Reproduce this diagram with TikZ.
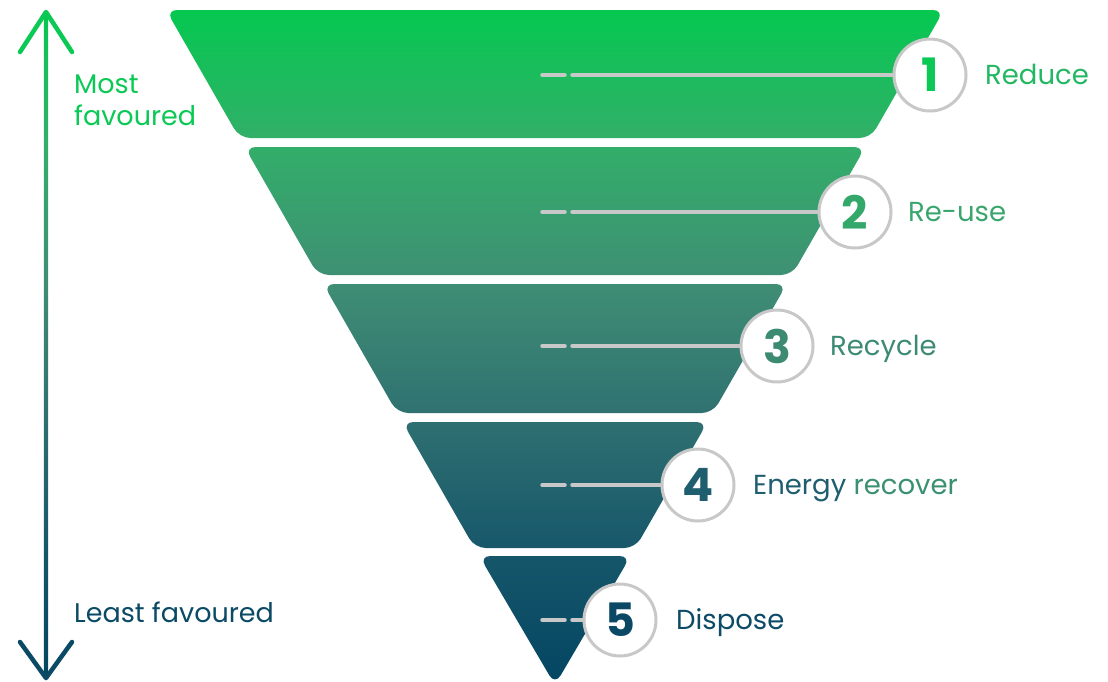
\documentclass[tikz,border=0pt]{standalone}
\usepackage{fontspec}
\setmainfont{Poppins}
\definecolor{cB0}{HTML}{05C850}
\definecolor{cB1}{HTML}{32AF69}
\definecolor{cB2}{HTML}{3F8E74}
\definecolor{cB3}{HTML}{2E6F71}
\definecolor{cB4}{HTML}{16566A}
\definecolor{cB5}{HTML}{034662}
\definecolor{ringgray}{HTML}{C8C8C8}
\definecolor{topgreen}{HTML}{0BC955}
\definecolor{botblue}{HTML}{0A4A64}
\definecolor{num1}{HTML}{0CC955}
\definecolor{num2}{HTML}{33A86A}
\definecolor{num3}{HTML}{3D8A72}
\definecolor{num4}{HTML}{1F5E6E}
\definecolor{num5}{HTML}{0B4864}
\definecolor{lab1}{HTML}{22B862}
\definecolor{lab2}{HTML}{3AA66E}
\definecolor{lab3}{HTML}{3D8A74}
\definecolor{lab4a}{HTML}{1F5E6E}
\definecolor{lab4b}{HTML}{3A9070}
\definecolor{lab5}{HTML}{0D4A66}
\pgfdeclareverticalshading{funnel}{100bp}{color(0bp)=(cB5); color(25bp)=(cB5); color(34.6bp)=(cB4); color(44.3bp)=(cB3); color(54.8bp)=(cB2); color(65.3bp)=(cB1); color(75bp)=(cB0); color(100bp)=(cB0)}
\tikzset{
  ring/.style={circle, draw=ringgray, line width=3pt, fill=white, minimum size=72pt, inner sep=0pt, font=\fontsize{46}{46}\selectfont\bfseries},
  guide/.style={draw=ringgray, line width=3.5pt, line cap=round},
  label/.style={anchor=base west, inner sep=0pt, font=\fontsize{27.5}{32}\selectfont},
  side/.style={anchor=base west, inner sep=0pt, font=\fontsize{27}{32}\selectfont},
  chev/.style={line width=4.5pt, line cap=round, line join=round}
}
\begin{document}
\begin{tikzpicture}[x=1pt,y=-1pt]
\useasboundingbox (0,0) rectangle (1108,681);
% funnel layers
\shade[shading=funnel, rounded corners=11pt]
  (166,10) -- (944,10) -- (870.6,138) -- (239.4,138) -- cycle
  (244.6,147) -- (865.4,147) -- (792,275) -- (318,275) -- cycle
  (323.2,284) -- (786.8,284) -- (712.8,413) -- (397.2,413) -- cycle
  (402.4,422) -- (707.6,422) -- (635.3,548) -- (474.7,548) -- cycle
  (479.3,556) -- (630.7,556) -- (555,685) -- cycle;
% left arrow
\coordinate (atop) at (46,12);
\coordinate (abot) at (46,678);
\shade[shading=funnel] (43.8,12) rectangle (48.2,678);
\coordinate (tl) at (20,52);
\coordinate (tr) at (72,52);
\coordinate (bl) at (20,642);
\coordinate (br) at (72,642);
\draw[chev, topgreen] (tl) -- (atop) -- (tr);
\draw[chev, botblue] (bl) -- (abot) -- (br);
\node[side, text=topgreen] (most) at (74,93) {Most};
\node[side, text=topgreen] (fav) at (74,125) {favoured};
\node[side, text=botblue] (least) at (74,622) {Least favoured};
% circles
\node[ring, text=num1] (c1) at (930,75) {1};
\node[ring, text=num2] (c2) at (855,212) {2};
\node[ring, text=num3] (c3) at (777,346) {3};
\node[ring, text=num4] (c4) at (698,485) {4};
\node[ring, text=num5] (c5) at (620,620) {5};
% guide lines
\foreach \i/\y in {1/75,2/212,3/346,4/485,5/620}{
  \coordinate (d\i s) at (542,\y);
  \coordinate (d\i e) at (565,\y);
  \coordinate (l\i s) at (572,\y);
}
\foreach \i in {1,...,5}{
  \path[guide] (d\i s) -- (d\i e);
  \path[guide] (l\i s) -- (c\i);
}
% labels
\node[label, text=lab1] (t1) at (985,84) {Reduce};
\node[label, text=lab2] (t2) at (908,221) {Re-use};
\node[label, text=lab3] (t3) at (830,355) {Recycle};
\node[label] (t4) at (753,494) {\textcolor{lab4a}{Energy} \textcolor{lab4b}{recover}};
\node[label, text=lab5] (t5) at (676,629) {Dispose};
\end{tikzpicture}
\end{document}
